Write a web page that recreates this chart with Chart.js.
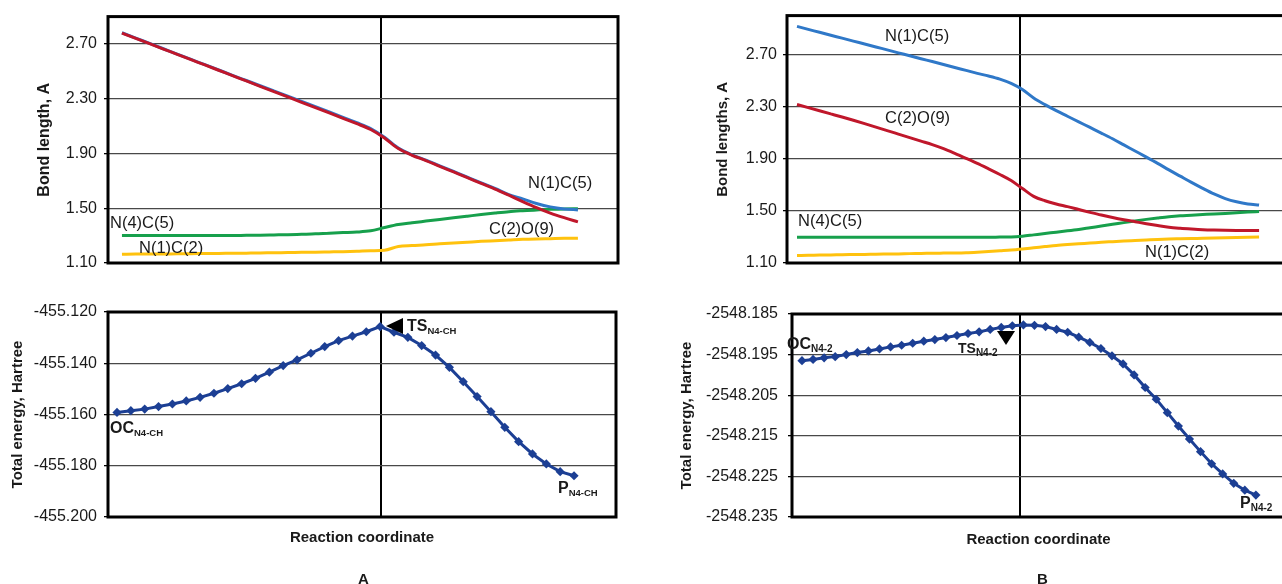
<!DOCTYPE html>
<html>
<head>
<meta charset="utf-8">
<script src="https://cdn.jsdelivr.net/npm/chart.js@4.4.0/dist/chart.umd.min.js"></script>
<style>
html,body{margin:0;padding:0;background:#fff;overflow:hidden;width:1282px;height:584px;}
.box{position:absolute;}
.lbl{position:absolute;font-family:"Liberation Sans",Arial,sans-serif;color:#1a1a1a;white-space:nowrap;line-height:1;}
.b{font-weight:bold;}
.sub{font-weight:bold;position:relative;top:3px;}
.tri{position:absolute;width:0;height:0;}
</style>
</head>
<body>
<div class="box" style="left:0;top:0;width:630px;height:285px"><canvas id="cA1"></canvas></div>
<div class="box" style="left:0;top:290px;width:630px;height:290px"><canvas id="cA2"></canvas></div>
<div class="box" style="left:640px;top:0;width:650px;height:285px"><canvas id="cB1"></canvas></div>
<div class="box" style="left:640px;top:290px;width:650px;height:290px"><canvas id="cB2"></canvas></div>

<!-- series labels, panel A -->
<div class="lbl" style="left:528px;top:174px;font-size:16.5px">N(1)C(5)</div>
<div class="lbl" style="left:489px;top:220px;font-size:16.5px">C(2)O(9)</div>
<div class="lbl" style="left:110px;top:214px;font-size:16.5px">N(4)C(5)</div>
<div class="lbl" style="left:139px;top:239px;font-size:16.5px">N(1)C(2)</div>
<!-- series labels, panel B -->
<div class="lbl" style="left:885px;top:27px;font-size:16.5px">N(1)C(5)</div>
<div class="lbl" style="left:885px;top:109px;font-size:16.5px">C(2)O(9)</div>
<div class="lbl" style="left:798px;top:212px;font-size:16.5px">N(4)C(5)</div>
<div class="lbl" style="left:1145px;top:243px;font-size:16.5px">N(1)C(2)</div>

<!-- energy annotations, panel A -->
<div class="lbl b" style="left:110px;top:420px;font-size:16px">OC<span class="sub" style="font-size:9.5px">N4-CH</span></div>
<div class="lbl b" style="left:407px;top:318px;font-size:16px">TS<span class="sub" style="font-size:9.5px">N4-CH</span></div>
<div class="lbl b" style="left:558px;top:480px;font-size:16px">P<span class="sub" style="font-size:9.5px">N4-CH</span></div>
<div class="tri" style="left:386px;top:318px;border-top:8px solid transparent;border-bottom:8px solid transparent;border-right:17px solid #000;"></div>
<!-- energy annotations, panel B -->
<div class="lbl b" style="left:787px;top:336px;font-size:16px">OC<span class="sub" style="font-size:10px">N4-2</span></div>
<div class="lbl b" style="left:958px;top:341px;font-size:14px">TS<span class="sub" style="font-size:10px">N4-2</span></div>
<div class="lbl b" style="left:1240px;top:495px;font-size:16px">P<span class="sub" style="font-size:10px">N4-2</span></div>
<div class="tri" style="left:997px;top:331px;border-left:9px solid transparent;border-right:9px solid transparent;border-top:14px solid #000;"></div>

<div class="lbl b" style="left:358px;top:571px;font-size:15px">A</div>
<div class="lbl b" style="left:1037px;top:571px;font-size:15px">B</div>

<script>
// ---------- data ----------
const stepsA = [0,1,2,3,4,5,6,7,8,9,10,11,12,13,14,15,16,17,18,19,20,21,22,23,24,25,26,27,28,29,30,31,32,33];
const stepsB = [0,1,2,3,4,5,6,7,8,9,10,11,12,13,14,15,16,17,18,19,20,21,22,23,24,25,26,27,28,29,30,31,32,33,34,35,36,37,38,39,40,41];

// Panel A: bond lengths (A)
const aN1C5 = [2.782,2.743,2.704,2.665,2.626,2.587,2.549,2.510,2.471,2.433,2.395,2.357,2.319,2.281,2.242,2.203,2.164,2.125,2.082,2.018,1.940,1.890,1.851,1.810,1.769,1.728,1.685,1.645,1.600,1.568,1.535,1.510,1.495,1.488];
const aC2O9 = [2.780,2.741,2.702,2.663,2.624,2.585,2.547,2.508,2.469,2.430,2.391,2.352,2.313,2.274,2.235,2.196,2.157,2.118,2.075,2.013,1.936,1.887,1.848,1.806,1.765,1.724,1.681,1.640,1.595,1.549,1.505,1.465,1.431,1.400];
const aN4C5 = [1.300,1.300,1.300,1.300,1.300,1.300,1.300,1.300,1.300,1.302,1.303,1.305,1.307,1.310,1.313,1.318,1.322,1.326,1.335,1.359,1.381,1.394,1.406,1.418,1.430,1.442,1.454,1.465,1.475,1.482,1.488,1.492,1.495,1.496];
const aN1C2 = [1.164,1.165,1.165,1.166,1.167,1.168,1.169,1.170,1.171,1.172,1.173,1.175,1.176,1.178,1.179,1.181,1.183,1.186,1.190,1.193,1.221,1.228,1.233,1.240,1.246,1.252,1.258,1.263,1.268,1.273,1.276,1.278,1.280,1.281];
// Panel A: total energy (Hartree)
const aEnergy = [-455.1592,-455.1585,-455.1579,-455.1569,-455.1559,-455.1547,-455.1533,-455.1517,-455.1499,-455.1480,-455.1459,-455.1435,-455.1409,-455.1387,-455.1361,-455.1335,-455.1312,-455.1294,-455.1277,-455.1257,-455.1279,-455.1299,-455.1331,-455.1368,-455.1416,-455.1472,-455.1530,-455.1589,-455.1650,-455.1706,-455.1754,-455.1793,-455.1823,-455.1839];

// Panel B: bond lengths (A)
const bN1C5 = [2.917,2.894,2.872,2.849,2.827,2.804,2.782,2.759,2.737,2.714,2.692,2.669,2.647,2.624,2.601,2.579,2.556,2.536,2.512,2.479,2.432,2.367,2.316,2.270,2.227,2.184,2.141,2.098,2.054,2.007,1.960,1.913,1.865,1.815,1.767,1.719,1.673,1.630,1.595,1.570,1.553,1.545];
const bC2O9 = [2.317,2.293,2.269,2.245,2.221,2.196,2.170,2.143,2.117,2.090,2.063,2.036,2.009,1.978,1.942,1.904,1.865,1.823,1.780,1.733,1.672,1.612,1.578,1.553,1.533,1.511,1.489,1.468,1.449,1.432,1.417,1.402,1.388,1.375,1.367,1.361,1.356,1.353,1.351,1.350,1.350,1.350];
const bN4C5 = [1.298,1.298,1.298,1.298,1.298,1.298,1.298,1.298,1.298,1.298,1.298,1.298,1.298,1.298,1.298,1.298,1.298,1.298,1.299,1.300,1.306,1.316,1.326,1.337,1.347,1.358,1.371,1.384,1.397,1.410,1.423,1.435,1.446,1.456,1.463,1.467,1.472,1.477,1.481,1.486,1.491,1.495];
const bN1C2 = [1.158,1.159,1.161,1.162,1.164,1.165,1.166,1.168,1.169,1.170,1.172,1.173,1.175,1.176,1.177,1.179,1.183,1.188,1.194,1.200,1.208,1.217,1.226,1.235,1.242,1.248,1.253,1.259,1.264,1.269,1.273,1.277,1.281,1.284,1.286,1.288,1.290,1.292,1.294,1.296,1.298,1.300];
// Panel B: total energy (Hartree)
const bEnergy = [-2548.1965,-2548.1962,-2548.1958,-2548.1955,-2548.1950,-2548.1945,-2548.1941,-2548.1936,-2548.1931,-2548.1927,-2548.1922,-2548.1917,-2548.1913,-2548.1908,-2548.1903,-2548.1898,-2548.1894,-2548.1888,-2548.1883,-2548.1879,-2548.1877,-2548.1878,-2548.1881,-2548.1888,-2548.1895,-2548.1907,-2548.1920,-2548.1935,-2548.1953,-2548.1973,-2548.2000,-2548.2031,-2548.2060,-2548.2093,-2548.2126,-2548.2158,-2548.2189,-2548.2219,-2548.2244,-2548.2267,-2548.2284,-2548.2296];

// tick labels
const bondTicks = [1.10,1.50,1.90,2.30,2.70];
const energyTicksA = [-455.200,-455.180,-455.160,-455.140,-455.120];
const energyTicksB = [-2548.235,-2548.225,-2548.215,-2548.205,-2548.195,-2548.185];

// transition-state position on the reaction coordinate
const tsA_bond = 18.75, tsA_energy = 19.05, tsB_bond = 19.8, tsB_energy = 19.65;

// ---------- drawing ----------
const F = '"Liberation Sans", Arial, sans-serif';
const TXT = '#1a1a1a';
const C = {blue:'#2f78c8', red:'#c0172b', green:'#17a04c', yellow:'#ffc20e', navy:'#1c3f94'};

const frame = {
  id:'frame',
  beforeDatasetsDraw(chart){
    const {ctx, chartArea:a} = chart;
    ctx.save();
    ctx.strokeStyle = '#000';
    ctx.lineWidth = 3;
    ctx.strokeRect(a.left, a.top, a.right - a.left, a.bottom - a.top);
    ctx.restore();
  }
};

function bondSet(data, color){
  return {data, borderColor:color, backgroundColor:color, borderWidth:3, pointRadius:0,
          cubicInterpolationMode:'monotone', fill:false};
}
function energySet(data){
  return {data, borderColor:C.navy, backgroundColor:C.navy, borderWidth:3,
          pointStyle:'rectRot', pointRadius:4.6, pointBorderWidth:0, pointBackgroundColor:C.navy,
          tension:0, fill:false};
}

function build(id, o){
  return new Chart(document.getElementById(id), {
    type:'line',
    data:{labels:o.labels, datasets:o.datasets},
    options:{
      responsive:true, maintainAspectRatio:false, animation:false,
      layout:{padding:o.padding},
      plugins:{legend:{display:false}, tooltip:{enabled:false}},
      scales:{
        x:{
          type:'linear', min:o.xMin, max:o.xMax,
          afterBuildTicks:s=>{ s.ticks = [{value:o.ts}]; },
          afterFit:s=>{ s.height = o.xHeight; },
          ticks:{display:false},
          grid:{color:'#000', lineWidth:2, drawTicks:false},
          border:{display:false},
          title: o.xTitle ? {display:true, text:o.xTitle, color:TXT, padding:0,
                              font:{family:F, size:15, weight:'bold'}} : {display:false}
        },
        y:{
          type:'linear', min:o.yMin, max:o.yMax,
          afterBuildTicks:s=>{ s.ticks = o.yTicks.map(v=>({value:v})); },
          afterFit:s=>{ s.width = o.yWidth; },
          ticks:{callback:v=>Number(v).toFixed(o.dec), color:TXT, padding:o.tickPad,
                 font:{family:F, size:16}},
          grid:{color:'#484848', lineWidth:1.3, tickLength:4, tickColor:'#000'},
          border:{display:false},
          title:{display:true, text:o.yTitle, color:TXT, padding:{top:o.yTitlePad, bottom:0},
                 font:{family:F, size:o.yTitleSize, weight:'bold'}}
        }
      }
    },
    plugins:[frame]
  });
}

build('cA1', {
  labels:stepsA,
  datasets:[bondSet(aC2O9,C.red), bondSet(aN1C5,C.blue), bondSet(aN4C5,C.green), bondSet(aN1C2,C.yellow)],
  padding:{left:0, top:12, right:12, bottom:22},
  xMin:-1.01, xMax:35.9, ts:tsA_bond, xHeight:0,
  yMin:1.10, yMax:2.90, yTicks:bondTicks, dec:2, yWidth:108, tickPad:7,
  yTitle:'Bond length, A', yTitleSize:16, yTitlePad:35
});
build('cA2', {
  labels:stepsA,
  datasets:[energySet(aEnergy)],
  padding:{left:0, top:22, right:14, bottom:33},
  xMin:-0.65, xMax:36.03, ts:tsA_energy, xHeight:30, xTitle:'Reaction coordinate',
  yMin:-455.200, yMax:-455.120, yTicks:energyTicksA, dec:3, yWidth:108, tickPad:7,
  yTitle:'Total energy, Hartree', yTitleSize:15, yTitlePad:9
});
build('cB1', {
  labels:stepsB,
  datasets:[bondSet(bC2O9,C.red), bondSet(bN1C5,C.blue), bondSet(bN4C5,C.green), bondSet(bN1C2,C.yellow)],
  padding:{left:0, top:13, right:5, bottom:22},
  xMin:-0.887, xMax:43.3, ts:tsB_bond, xHeight:0,
  yMin:1.10, yMax:3.00, yTicks:bondTicks, dec:2, yWidth:147, tickPad:6,
  yTitle:'Bond lengths, A', yTitleSize:15, yTitlePad:74
});
build('cB2', {
  labels:stepsB,
  datasets:[energySet(bEnergy)],
  padding:{left:0, top:24, right:5, bottom:31},
  xMin:-0.903, xMax:43.63, ts:tsB_energy, xHeight:32, xTitle:'Reaction coordinate',
  yMin:-2548.235, yMax:-2548.185, yTicks:energyTicksB, dec:3, yWidth:152, tickPad:10,
  yTitle:'Total energy, Hartree', yTitleSize:15, yTitlePad:38
});
</script>
</body>
</html>
